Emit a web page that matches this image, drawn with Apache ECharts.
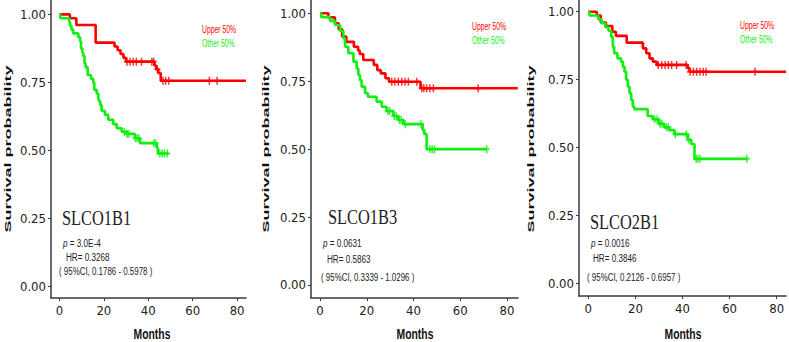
<!DOCTYPE html>
<html>
<head>
<meta charset="utf-8">
<title>Survival curves</title>
<script src="https://cdn.jsdelivr.net/npm/echarts@6/dist/echarts.min.js"></script>
<style>
  html, body { margin: 0; padding: 0; background: #fff; }
  #main { width: 789px; height: 342px; }
</style>
</head>
<body>
<div id="main"></div>
<script>
// values
var genes = ['SLCO1B1', 'SLCO1B3', 'SLCO2B1'];
var pValues = ['3.0E-4', '0.0631', '0.0016'];
var hrValues = ['0.3268', '0.5863', '0.3846'];
var ciValues = ['0.1786 - 0.5978', '0.3339 - 1.0296', '0.2126 - 0.6957'];
var groupNames = ['Upper 50%', 'Other 50%'];
var xTicks = [0, 20, 40, 60, 80];
var yTicks = [0, 0.25, 0.5, 0.75, 1];

// panel 1 - [months, survival]
var upper1 = [[0, 1], [4.7, 0.986], [7.6, 0.961], [16.3, 0.896], [24.8, 0.882], [26.2, 0.868], [27.5, 0.854],
  [28.8, 0.840], [30, 0.826], [42.8, 0.812], [43.6, 0.798], [44.5, 0.784], [45.6, 0.756], [84, 0.756]];
var other1 = [[0, 1], [0.4, 0.986], [4.4, 0.972], [4.8, 0.958], [5.4, 0.944], [6.2, 0.930], [8.5, 0.916],
  [9.3, 0.902], [9.7, 0.875], [10.3, 0.861], [10.7, 0.847], [11.3, 0.819], [11.8, 0.805], [12.7, 0.777],
  [14.2, 0.763], [15.2, 0.749], [15.7, 0.722], [16.8, 0.708], [17.5, 0.694], [17.8, 0.680], [18.4, 0.666],
  [19, 0.645], [20.5, 0.630], [22, 0.612], [24.2, 0.596], [25.8, 0.581], [28, 0.568], [30.3, 0.560],
  [34, 0.544], [36.3, 0.526], [43.8, 0.51], [44.3, 0.488], [49, 0.488]];
var upperCens1 = [[30.4, 0.826], [31.8, 0.826], [33.2, 0.826], [34.6, 0.826], [37, 0.826], [41.6, 0.826],
  [42.4, 0.826], [44.1, 0.798], [46.6, 0.756], [47.8, 0.756], [49.2, 0.756], [67.5, 0.756], [71, 0.756]];
var otherCens1 = [[29.2, 0.568], [30.5, 0.56], [31.3, 0.56], [34.2, 0.544], [35, 0.544], [35.8, 0.544],
  [42.5, 0.526], [43.3, 0.526], [45.2, 0.488], [46.3, 0.488], [47.3, 0.488], [48.6, 0.488]];

// panel 2
var upper2 = [[0, 1], [3.6, 0.985], [6.4, 0.963], [8, 0.941], [9.5, 0.914], [11.3, 0.895], [14.5, 0.877],
  [16.3, 0.863], [17, 0.85], [18.5, 0.828], [23, 0.81], [24.5, 0.791], [26, 0.779], [28, 0.761],
  [29.5, 0.748], [43, 0.724], [84.6, 0.724]];
var other2 = [[0, 1], [0.5, 0.986], [4.3, 0.972], [6.4, 0.957], [8.6, 0.935], [10, 0.908], [10.7, 0.877],
  [12.1, 0.853], [14.3, 0.822], [15.7, 0.797], [16.4, 0.773], [17.1, 0.754], [17.8, 0.73], [19.3, 0.706],
  [20.5, 0.693], [24.2, 0.675], [26.4, 0.656], [28.5, 0.64], [31.4, 0.622], [33.5, 0.607], [35.7, 0.592],
  [43.9, 0.57], [44.6, 0.556], [45.6, 0.5], [71.3, 0.5]];
var upperCens2 = [[30.7, 0.748], [32, 0.748], [33.5, 0.748], [35, 0.748], [36.4, 0.748], [37.8, 0.748],
  [41.4, 0.748], [43.5, 0.724], [44.4, 0.724], [45.6, 0.724], [47, 0.724], [48.5, 0.724], [67.7, 0.724]];
var otherCens2 = [[29, 0.64], [29.8, 0.64], [31.8, 0.622], [32.6, 0.622], [34, 0.607], [34.8, 0.607],
  [36.5, 0.592], [43.2, 0.592], [47, 0.5], [48, 0.5], [49, 0.5], [71.3, 0.5]];

// panel 3
var upper3 = [[0, 1], [3.6, 0.986], [5.3, 0.96], [7.5, 0.947], [10.2, 0.926], [11.7, 0.911], [16.3, 0.886],
  [23.2, 0.865], [24.6, 0.847], [26, 0.828], [27.4, 0.816], [29, 0.804], [42.2, 0.792], [43, 0.779], [84, 0.779]];
var other3 = [[0, 1], [0.5, 0.986], [4.2, 0.972], [5.6, 0.958], [7.2, 0.943], [8.6, 0.93], [9.7, 0.908],
  [10.4, 0.871], [11, 0.847], [12.4, 0.828], [13.9, 0.816], [14.7, 0.797], [15.4, 0.779], [16.1, 0.749],
  [16.8, 0.724], [17.5, 0.70], [18.2, 0.675], [18.9, 0.65], [19.6, 0.641], [25.2, 0.616], [27.3, 0.604],
  [30, 0.587], [32.3, 0.574], [34.4, 0.564], [36.5, 0.549], [42.3, 0.528], [43.7, 0.513], [45.1, 0.458],
  [67.3, 0.458]];
var upperCens3 = [[29.7, 0.804], [31.2, 0.804], [32.6, 0.804], [34, 0.804], [35.4, 0.804], [37.5, 0.804],
  [41.5, 0.804], [43.2, 0.779], [44.6, 0.779], [46, 0.779], [47.4, 0.779], [48.8, 0.779], [50, 0.779], [70.8, 0.779]];
var otherCens3 = [[28.2, 0.604], [29.2, 0.604], [30.5, 0.587], [31.3, 0.587], [33.2, 0.574], [34, 0.574],
  [37, 0.549], [41.6, 0.549], [42.6, 0.528], [45.8, 0.458], [46.6, 0.458], [47.4, 0.458], [67.3, 0.458]];

var upperCurves = [upper1, upper2, upper3];
var otherCurves = [other1, other2, other3];
var upperCens = [upperCens1, upperCens2, upperCens3];
var otherCens = [otherCens1, otherCens2, otherCens3];

// layout of the three panels (pixels)
var panels = [
  {left: 51, width: 195, height: 298, xMin: -3.8, xMax: 84, yMin: -0.044, yMax: 1.053,
    titleX: 8, monthsX: 152, legX: 202, legY: 29, geneX: 62, geneY: 218, statX: [63, 66, 59], statY: [243, 257, 271]},
  {left: 311, width: 207, height: 298, xMin: -3.85, xMax: 84.7, yMin: -0.048, yMax: 1.049,
    titleX: 266, monthsX: 415, legX: 472, legY: 26, geneX: 328, geneY: 217, statX: [323, 327, 321], statY: [243, 259, 277]},
  {left: 579, width: 207, height: 296, xMin: -3.95, xMax: 83.95, yMin: -0.047, yMax: 1.043,
    titleX: 531, monthsX: 683, legX: 740, legY: 25, geneX: 590, geneY: 222, statX: [591, 593, 587], statY: [243, 258, 277]}
];

var red = '#ff0000';
var green = '#11ee11';
var axisColor = '#3a3a3a';
var narrow = '"Liberation Sans Narrow", "DejaVu Sans Condensed", "Liberation Sans", sans-serif';
var plus = 'path://M3,0H5V3H8V5H5V8H3V5H0V3H3Z';
var statFont = '11px "Liberation Sans", Arial, sans-serif';

var grids = [], xAxes = [], yAxes = [], series = [], texts = [];

panels.forEach(function (p, i) {
  grids.push({left: p.left, top: 0, width: p.width, height: p.height});
  xAxes.push({
    gridIndex: i, type: 'value', min: p.xMin, max: p.xMax,
    axisLine: {onZero: false, lineStyle: {color: axisColor, width: 1.5}},
    axisTick: {customValues: xTicks, length: 3, lineStyle: {color: axisColor}},
    axisLabel: {customValues: xTicks, margin: 6, color: '#222', fontSize: 13, fontFamily: narrow},
    splitLine: {show: false}
  });
  yAxes.push({
    gridIndex: i, type: 'value', min: p.yMin, max: p.yMax,
    axisLine: {show: true, onZero: false, lineStyle: {color: axisColor, width: 1.5}},
    axisTick: {show: true, customValues: yTicks, length: 3, lineStyle: {color: axisColor}},
    axisLabel: {customValues: yTicks, margin: 5, color: '#222', fontSize: 13, fontFamily: narrow,
      formatter: function (v) { return v.toFixed(2); }},
    splitLine: {show: false}
  });

  series.push({
    name: groupNames[0], type: 'line', step: 'end', xAxisIndex: i, yAxisIndex: i,
    data: upperCurves[i], symbol: 'none', lineStyle: {color: red, width: 2.6}, z: 3
  });
  series.push({
    name: groupNames[1], type: 'line', step: 'end', xAxisIndex: i, yAxisIndex: i,
    data: otherCurves[i], symbol: 'none', lineStyle: {color: green, width: 2.6}, z: 3
  });
  series.push({
    type: 'scatter', xAxisIndex: i, yAxisIndex: i, data: upperCens[i],
    symbol: plus, symbolSize: [6, 8], itemStyle: {color: red}, z: 4
  });
  series.push({
    type: 'scatter', xAxisIndex: i, yAxisIndex: i, data: otherCens[i],
    symbol: plus, symbolSize: [6, 8], itemStyle: {color: green}, z: 4
  });

  // axis titles
  texts.push({
    type: 'text', x: p.titleX, y: 149, rotation: Math.PI / 2, scaleY: 0.5,
    style: {text: 'Survival probability', fill: '#111', font: 'bold 18px "Liberation Sans", Arial, sans-serif',
      textAlign: 'center', textVerticalAlign: 'middle'}
  });
  texts.push({
    type: 'text', x: p.monthsX, y: 334, scaleX: 0.74,
    style: {text: 'Months', fill: '#111', font: 'bold 14px "Liberation Sans", Arial, sans-serif',
      textAlign: 'center', textVerticalAlign: 'middle'}
  });
  // legend
  texts.push({
    type: 'text', x: p.legX, y: p.legY, scaleX: 0.68,
    style: {text: groupNames[0], fill: red, font: '10px "Liberation Sans", Arial, sans-serif',
      textAlign: 'left', textVerticalAlign: 'middle'}
  });
  texts.push({
    type: 'text', x: p.legX, y: p.legY + 14, scaleX: 0.68,
    style: {text: groupNames[1], fill: green, font: '10px "Liberation Sans", Arial, sans-serif',
      textAlign: 'left', textVerticalAlign: 'middle'}
  });
  // gene name and statistics
  texts.push({
    type: 'text', x: p.geneX, y: p.geneY, scaleX: 0.78,
    style: {text: genes[i], fill: '#222', font: '21px "Liberation Serif", "DejaVu Serif", serif',
      textAlign: 'left', textVerticalAlign: 'middle'}
  });
  texts.push({
    type: 'text', x: p.statX[0], y: p.statY[0], scaleX: 0.74,
    style: {text: '{i|p} = ' + pValues[i], fill: '#222', font: statFont,
      textAlign: 'left', textVerticalAlign: 'middle',
      rich: {i: {fontStyle: 'italic', fontSize: 11, fill: '#222'}}}
  });
  texts.push({
    type: 'text', x: p.statX[1], y: p.statY[1], scaleX: 0.74,
    style: {text: 'HR= ' + hrValues[i], fill: '#222', font: statFont,
      textAlign: 'left', textVerticalAlign: 'middle'}
  });
  texts.push({
    type: 'text', x: p.statX[2], y: p.statY[2], scaleX: 0.72,
    style: {text: '( 95%CI, ' + ciValues[i] + ' )', fill: '#222', font: statFont,
      textAlign: 'left', textVerticalAlign: 'middle'}
  });
});

var myChart = echarts.init(document.getElementById('main'), null, {renderer: 'svg'});
myChart.setOption({
  animation: false,
  backgroundColor: '#fff',
  grid: grids,
  xAxis: xAxes,
  yAxis: yAxes,
  series: series,
  graphic: texts
});
</script>
</body>
</html>
